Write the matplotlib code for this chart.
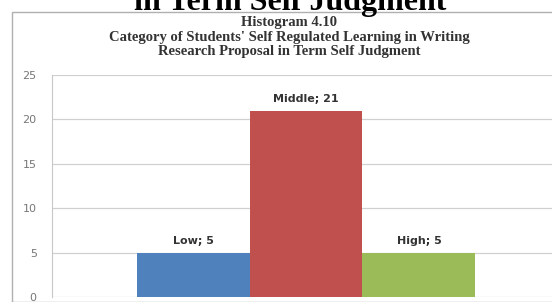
import matplotlib.pyplot as plt
from matplotlib.patches import Rectangle

categories = ["Low", "Middle", "High"]
values = [5, 21, 5]
colors = ["#4F81BD", "#C0504D", "#9BBB59"]
yticks = [0, 5, 10, 15, 20, 25]

W, H = 552, 302
fig = plt.figure(figsize=(W / 100, H / 100), dpi=100)

# chart frame
fig.patches.append(Rectangle((12 / W, 0), 1, 1 - 12 / H, transform=fig.transFigure,
                             fill=False, edgecolor="#b0b0b0", lw=1))

# clipped heading from the page above
fig.text(290 / W, 1 - 10 / H, "in Term Self Judgment", ha="center", va="baseline",
         family="Liberation Serif", weight="bold", fontsize=23)

ax = fig.add_axes([52 / W, (H - 297) / H, (560 - 52) / W, (297 - 75) / H])

width = 1 / 3 * 2 / 3
for i, (cat, v, c) in enumerate(zip(categories, values, colors)):
    x = (i - 1) * width
    ax.bar(x, v, width=width, color=c, zorder=3)
    ax.text(x, v + 0.7, f"{cat}; {v}", ha="center", va="bottom", fontsize=8,
            weight="bold", color="#333333", zorder=4)

ax.set_xlim(-0.5, 0.5)
ax.set_ylim(0, 25)
ax.set_yticks(yticks)
ax.set_xticks([])
ax.grid(axis="y", color="#d0d0d0", lw=0.9, zorder=0)
for s in ["top", "right", "bottom"]:
    ax.spines[s].set_visible(False)
ax.spines["left"].set_color("#c8c8c8")
ax.tick_params(axis="y", length=0, labelsize=8, labelcolor="#777777", pad=11)

fig.text(289 / W, 1 - 37 / H, "Histogram 4.10\nCategory of Students' Self Regulated Learning in Writing\n"
         "Research Proposal in Term Self Judgment", ha="center", va="center",
         family="Liberation Serif", weight="bold", fontsize=10.5, color="#333333",
         linespacing=1.12)

fig.savefig("out.png", dpi=100)
